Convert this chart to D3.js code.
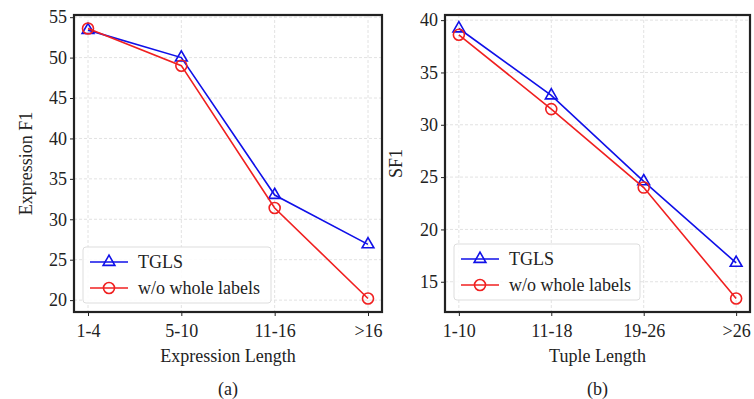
<!DOCTYPE html>
<meta charset="utf-8">
<head>
  <title>TGLS vs w/o whole labels</title>
  <style>
    body { margin: 0; background: #fff; }
    text { font-family: "Liberation Serif", "Times New Roman", serif; fill: #222; }
  </style>
</head>
<body>
  <svg width="754" height="399"></svg>

  <script src="https://cdnjs.cloudflare.com/ajax/libs/d3/7.8.5/d3.min.js"></script>
  <script>
var seriesNames = ['TGLS', 'w/o whole labels'];
var colors = ['#1010e8', '#f02020'];

// panel (a)
var exprCats = ['1-4', '5-10', '11-16', '>16'];
var exprTGLS = [53.4, 50.0, 33.0, 26.9];
var exprNoWhole = [53.6, 49.0, 31.4, 20.2];
var exprTicks = [20, 25, 30, 35, 40, 45, 50, 55];

// panel (b)
var tupleCats = ['1-10', '11-18', '19-26', '>26'];
var tupleTGLS = [39.2, 32.8, 24.6, 16.8];
var tupleNoWhole = [38.6, 31.5, 24.0, 13.4];
var tupleTicks = [15, 20, 25, 30, 35, 40];

var svg = d3.select('svg');

function panel(opt) {
  var g = svg.append('g');
  var x = d3.scaleLinear().domain([-0.15, 3.15]).range([opt.left, opt.right]);
  var all = opt.series[0].concat(opt.series[1]);
  var lo = d3.min(all), hi = d3.max(all), pad = (hi - lo) * 0.05;
  var y = d3.scaleLinear().domain([lo - pad, hi + pad]).range([opt.bottom, opt.top]);

  // grid
  g.selectAll('.vgrid').data(opt.cats).enter().append('line')
    .attr('x1', function(d, i) { return x(i); })
    .attr('x2', function(d, i) { return x(i); })
    .attr('y1', opt.top).attr('y2', opt.bottom)
    .attr('stroke', '#e2e2e2').attr('stroke-width', 1).attr('stroke-dasharray', '3,2');
  g.selectAll('.hgrid').data(opt.ticks).enter().append('line')
    .attr('x1', opt.left).attr('x2', opt.right)
    .attr('y1', function(d) { return y(d); })
    .attr('y2', function(d) { return y(d); })
    .attr('stroke', '#e2e2e2').attr('stroke-width', 1).attr('stroke-dasharray', '3,2');

  // axes
  var xAxis = d3.axisBottom(x).tickValues([0, 1, 2, 3])
    .tickFormat(function(d) { return opt.cats[d]; }).tickSize(4).tickPadding(8);
  var yAxis = d3.axisLeft(y).tickValues(opt.ticks).tickSize(4).tickPadding(3);
  var gx = g.append('g').attr('transform', 'translate(0,' + opt.bottom + ')').call(xAxis);
  var gy = g.append('g').attr('transform', 'translate(' + opt.left + ',0)').call(yAxis);
  [gx, gy].forEach(function(a) {
    a.select('.domain').remove();
    a.selectAll('text').style('font-size', '18px').attr('fill', '#222');
    a.selectAll('line').attr('stroke', '#222');
  });

  g.append('rect')
    .attr('x', opt.left).attr('y', opt.top)
    .attr('width', opt.right - opt.left).attr('height', opt.bottom - opt.top)
    .attr('fill', 'none').attr('stroke', '#222').attr('stroke-width', 2.2);

  // lines and markers
  var line = d3.line().x(function(d, i) { return x(i); }).y(function(d) { return y(d); });
  opt.series.forEach(function(s, k) {
    g.append('path').datum(s).attr('d', line)
      .attr('fill', 'none').attr('stroke', colors[k]).attr('stroke-width', 1.6);
    var sym = d3.symbol().type(k === 0 ? d3.symbolTriangle : d3.symbolCircle).size(k === 0 ? 60 : 95);
    g.selectAll('.m' + k).data(s).enter().append('path')
      .attr('d', sym)
      .attr('transform', function(d, i) { return 'translate(' + x(i) + ',' + y(d) + ')'; })
      .attr('fill', 'none').attr('stroke', colors[k]).attr('stroke-width', 1.6);
  });

  // labels
  g.append('text')
    .attr('x', (opt.left + opt.right) / 2).attr('y', opt.bottom + 50)
    .attr('text-anchor', 'middle').style('font-size', '18px').text(opt.xlabel);
  g.append('text')
    .attr('transform', 'translate(' + opt.ylabelX + ',' + ((opt.top + opt.bottom) / 2) + ') rotate(-90)')
    .attr('text-anchor', 'middle').style('font-size', '18px').text(opt.ylabel);
  g.append('text')
    .attr('x', (opt.left + opt.right) / 2).attr('y', opt.bottom + 83)
    .attr('text-anchor', 'middle').style('font-size', '18px').text(opt.caption);

  // legend
  var lx = opt.legX, ly = opt.legY;
  g.append('rect').attr('x', lx).attr('y', ly).attr('width', opt.legW).attr('height', 56)
    .attr('rx', 3).attr('fill', 'rgba(255,255,255,0.85)').attr('stroke', '#ddd');
  seriesNames.forEach(function(name, k) {
    var yy = ly + 15 + k * 26;
    g.append('line').attr('x1', lx + 7).attr('x2', lx + 45).attr('y1', yy).attr('y2', yy)
      .attr('stroke', colors[k]).attr('stroke-width', 1.6);
    var sym = d3.symbol().type(k === 0 ? d3.symbolTriangle : d3.symbolCircle).size(k === 0 ? 60 : 95);
    g.append('path').attr('d', sym).attr('transform', 'translate(' + (lx + 26) + ',' + yy + ')')
      .attr('fill', 'none').attr('stroke', colors[k]).attr('stroke-width', 1.6);
    g.append('text').attr('x', lx + 55).attr('y', yy + 6).style('font-size', '18px').text(name);
  });
}

panel({
  left: 74, right: 382, top: 15, bottom: 312,
  cats: exprCats, series: [exprTGLS, exprNoWhole], ticks: exprTicks,
  xlabel: 'Expression Length', ylabel: 'Expression F1', caption: '(a)', ylabelX: 32,
  legX: 83, legY: 247, legW: 188
});
panel({
  left: 445, right: 750, top: 15, bottom: 312,
  cats: tupleCats, series: [tupleTGLS, tupleNoWhole], ticks: tupleTicks,
  xlabel: 'Tuple Length', ylabel: 'SF1', caption: '(b)', ylabelX: 402,
  legX: 454, legY: 244, legW: 186
});
  </script>
</body>
</html>
